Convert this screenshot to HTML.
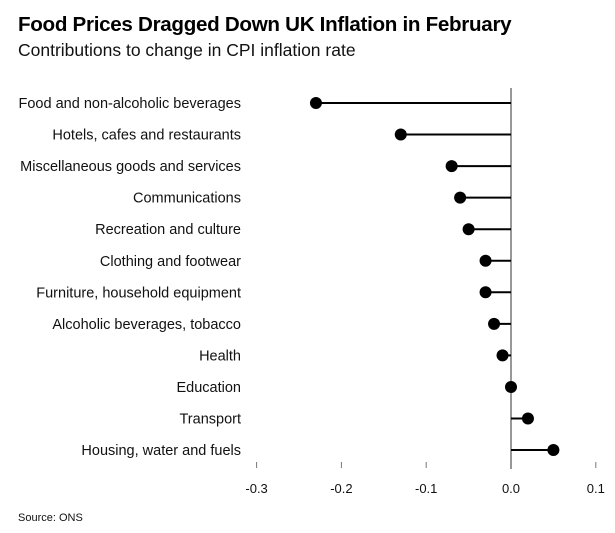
<!DOCTYPE html>
<html><head><meta charset="utf-8"><style>
html,body{margin:0;padding:0;background:#fff;width:615px;height:533px;overflow:hidden}
svg{display:block;font-family:"Liberation Sans",Arial,sans-serif}
</style></head><body>
<svg id="chart" width="615" height="533">
<text x="18" y="31" font-size="20.6" font-weight="bold" fill="#000" letter-spacing="-0.3">Food Prices Dragged Down UK Inflation in February</text>
<text x="18" y="56" font-size="17.5" fill="#111">Contributions to change in CPI inflation rate</text>
<text x="18" y="521" font-size="11" fill="#111">Source: ONS</text>
<g id="marks"></g>
</svg>
<script>
const categories = ["Food and non-alcoholic beverages","Hotels, cafes and restaurants","Miscellaneous goods and services","Communications","Recreation and culture","Clothing and footwear","Furniture, household equipment","Alcoholic beverages, tobacco","Health","Education","Transport","Housing, water and fuels"];
const values = [-0.23,-0.13,-0.07,-0.06,-0.05,-0.03,-0.03,-0.02,-0.01,0.0,0.02,0.05];
const ticks = [-0.3,-0.2,-0.1,0.0,0.1];
const tickLabels = ["-0.3","-0.2","-0.1","0.0","0.1"];

const NS="http://www.w3.org/2000/svg";
const g=document.getElementById('marks');
const x=v=>511+v*848;
const y=i=>103+i*31.55;
function mk(t,a){const e=document.createElementNS(NS,t);for(const k in a)e.setAttribute(k,a[k]);g.appendChild(e);return e;}

const zl=mk('line',{x1:x(0),x2:x(0),y1:88,y2:469,stroke:'#777','stroke-width':1.5});



ticks.forEach((t,i)=>{
  const tl=mk('line',{x1:x(t),x2:x(t),y1:462,y2:468,stroke:'#777','stroke-width':1});
  
  
  const tx=mk('text',{x:x(t),y:493,'font-size':13,'text-anchor':'middle',fill:'#111'});
  tx.textContent=tickLabels[i];
  
  
});

categories.forEach((c,i)=>{
  const lb=mk('text',{x:241,y:y(i)+5,'font-size':14.5,'text-anchor':'end',fill:'#111'});
  lb.textContent=c;
  
  
  const st=mk('line',{x1:x(0),x2:x(values[i]),y1:y(i),y2:y(i),stroke:'#000','stroke-width':2});
  
  
  const d=mk('circle',{cx:x(values[i]),cy:y(i),r:6,fill:'#000'});
  
  
});
</script>
</body></html>
